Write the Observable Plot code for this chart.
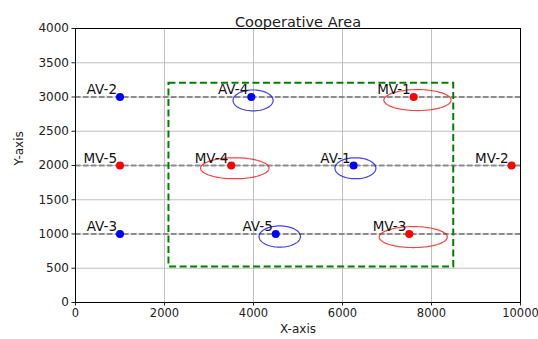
<!DOCTYPE html>
<html><head>
<meta charset="utf-8">
<script src="https://cdn.jsdelivr.net/npm/d3@7"></script>
<script src="https://cdn.jsdelivr.net/npm/@observablehq/plot@0.6"></script>
<style>body{margin:0;background:#fff;}</style>
</head><body><div id="chart"></div>
<script>
// Vehicles
const names = ["AV-1","AV-2","AV-3","AV-4","AV-5","MV-1","MV-2","MV-3","MV-4","MV-5"];
const xs    = [6250, 1000, 1000, 3950, 4500, 7600, 9800, 7500, 3500, 1000];
const ys    = [2000, 3000, 1000, 3000, 1000, 3000, 2000, 1000, 2000, 2000];
const kinds = ["AV","AV","AV","AV","AV","MV","MV","MV","MV","MV"];

// Uncertainty ellipses
const ellNames = ["AV-4","MV-4","AV-1","MV-1","AV-5","MV-3"];
const ellCx    = [3990, 3580, 6290, 7685, 4590, 7590];
const ellCy    = [2950, 1960, 1960, 2955, 963, 955];
const ellW     = [900, 1540, 920, 1510, 930, 1530];
const ellH     = [305, 306, 306, 306, 310, 306];

// Lanes and cooperative area
const lanes = [1000, 2000, 3000];
const area = {x1: 2100, x2: 8500, y1: 520, y2: 3200};

const xTicks = [0, 2000, 4000, 6000, 8000, 10000];
const yTicks = [0, 500, 1000, 1500, 2000, 2500, 3000, 3500, 4000];

const colorOf = k => k === "AV" ? "#0000ff" : "#ff0000";

const vehicles = names.map((n, i) => ({name: n, x: xs[i], y: ys[i], kind: kinds[i]}));

const ellPts = [];
ellNames.forEach((n, i) => {
  const N = 72;
  for (let k = 0; k <= N; k++) {
    const t = 2 * Math.PI * k / N;
    ellPts.push({name: n, kind: n.slice(0, 2),
      x: ellCx[i] + ellW[i] / 2 * Math.cos(t),
      y: ellCy[i] + ellH[i] / 2 * Math.sin(t)});
  }
});

const fmt = d3.format("d");

const chart = Plot.plot({
  width: 538, height: 339,
  marginLeft: 75, marginRight: 18, marginTop: 28, marginBottom: 37,
  style: {fontFamily: "DejaVu Sans", fontSize: "12px", background: "white", color: "#222"},
  x: {domain: [0, 10000]},
  y: {domain: [0, 4000]},
  marks: [
    Plot.gridX(xTicks, {stroke: "#b0b0b0", strokeOpacity: 1, strokeWidth: 0.8}),
    Plot.gridY(yTicks, {stroke: "#b0b0b0", strokeOpacity: 1, strokeWidth: 0.8}),
    Plot.ruleY(lanes, {stroke: "#8c8c8c", strokeWidth: 1.8, strokeDasharray: "5.5,2.5"}),
    Plot.rect([area], {x1: "x1", x2: "x2", y1: "y1", y2: "y2", fill: "none",
      stroke: "#008000", strokeWidth: 2, strokeDasharray: "7,3.5"}),
    Plot.line(ellPts, {x: "x", y: "y", z: "name", stroke: d => colorOf(d.kind),
      strokeOpacity: 0.75, strokeWidth: 1.2, curve: "linear"}),
    Plot.text(vehicles, {x: "x", y: "y", text: "name", textAnchor: "end", lineAnchor: "bottom",
      dx: -3, dy: -3, fontSize: 13.5, fill: "#111"}),
    Plot.dot(vehicles, {x: "x", y: "y", r: 4, fill: d => colorOf(d.kind), stroke: "none"}),
    Plot.frame({stroke: "#000", strokeWidth: 1}),
    Plot.axisX({ticks: xTicks, tickFormat: fmt, tickSize: 3.5, tickPadding: 3, label: null, fontSize: 11.5}),
    Plot.axisY({ticks: yTicks, tickFormat: fmt, tickSize: 3.5, tickPadding: 3, label: null, fontSize: 12}),
    Plot.text(["X-axis"], {frameAnchor: "bottom", dy: 30, fontSize: 12}),
    Plot.text(["Y-axis"], {frameAnchor: "left", dx: -56, rotate: -90, fontSize: 12}),
    Plot.text(["Cooperative Area"], {frameAnchor: "top", dy: -12, fontSize: 14.5})
  ]
});
document.getElementById("chart").appendChild(chart);
</script></body></html>
